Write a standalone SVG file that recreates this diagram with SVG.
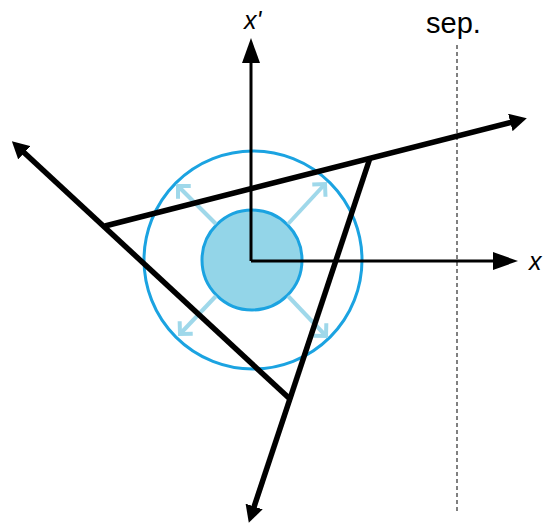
<svg xmlns="http://www.w3.org/2000/svg" width="547" height="526" viewBox="0 0 547 526">
<style>
.axis{stroke:#000;stroke-width:3;fill:none}
.tri{stroke:#000;stroke-width:5.5;fill:none;stroke-linejoin:miter}
.sep{stroke:#808080;stroke-width:2;stroke-dasharray:4 3;fill:none}
.push{stroke:#9fd8ea;stroke-width:4;fill:none}
.lbl{font-family:"Liberation Sans",Arial,sans-serif;fill:#000}
</style>
<defs>
<marker id="axHead" viewBox="0 0 25 18" refX="17" refY="9" markerWidth="25" markerHeight="18" markerUnits="userSpaceOnUse" orient="auto">
<polygon points="0,0 25,9 0,18" fill="#000"/>
</marker>
<marker id="triHead" viewBox="0 0 17 18" refX="10" refY="9" markerWidth="17" markerHeight="18" markerUnits="userSpaceOnUse" orient="auto">
<polygon points="0,0 17,9 0,18" fill="#000"/>
</marker>
<marker id="pushHead" viewBox="0 0 14 22" refX="11" refY="11" markerWidth="14" markerHeight="22" markerUnits="userSpaceOnUse" orient="auto">
<polyline points="2,2 11,11 2,20" fill="none" stroke="#9fd8ea" stroke-width="4"/>
</marker>
</defs>
<g id="separator">
<line class="sep" x1="457" y1="45" x2="457" y2="512"/>
<text class="lbl" x="426" y="33" font-size="29">sep.</text>
</g>
<g id="outer-circle">
<circle cx="253" cy="260" r="109" fill="none" stroke="#1ba3e1" stroke-width="3"/>
</g>
<g id="inner-circle">
<circle cx="252" cy="260" r="50" fill="#93d5e8" stroke="#1ba3e1" stroke-width="3"/>
</g>
<g id="connectors">
<line class="push" x1="216" y1="224" x2="178" y2="186" marker-end="url(#pushHead)"/>
<line class="push" x1="288" y1="224" x2="325" y2="184" marker-end="url(#pushHead)"/>
<line class="push" x1="216" y1="296" x2="180" y2="334" marker-end="url(#pushHead)"/>
<line class="push" x1="288" y1="296" x2="326" y2="336" marker-end="url(#pushHead)"/>
<line class="axis" x1="251" y1="261" x2="510" y2="261" marker-end="url(#axHead)"/>
<line class="axis" x1="251" y1="261" x2="251" y2="46" marker-end="url(#axHead)"/>
<line class="tri" x1="105" y1="226" x2="520" y2="120" marker-end="url(#triHead)"/>
<line class="tri" x1="290" y1="399" x2="17" y2="146" marker-end="url(#triHead)"/>
<line class="tri" x1="370" y1="158" x2="251" y2="516" marker-end="url(#triHead)"/>
</g>
<g id="labels">
<text class="lbl" x="529" y="270" font-size="25" font-style="italic">x</text>
<text class="lbl" x="244" y="29" font-size="25" font-style="italic">x'</text>
</g>
</svg>
